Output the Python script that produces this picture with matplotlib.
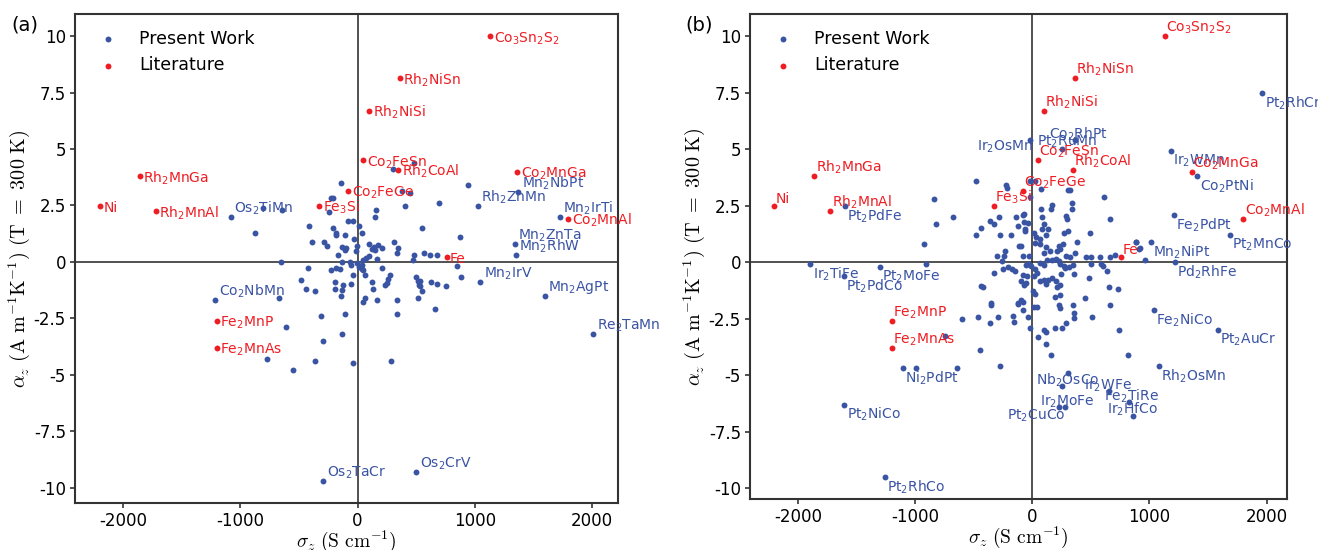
import re

import matplotlib
matplotlib.use("Agg")
import matplotlib.pyplot as plt
from matplotlib.ticker import FuncFormatter

plt.rcParams["axes.unicode_minus"] = False

BLUE = "#3a54a4"
RED = "#ee1d23"

# Literature values (same in both panels)
lit_names = ["Co3Sn2S2", "Rh2NiSn", "Rh2NiSi", "Co2FeSn", "Rh2CoAl", "Co2MnGa",
             "Rh2MnGa", "Co2FeGe", "Fe3Si", "Ni", "Rh2MnAl", "Co2MnAl", "Fe",
             "Fe2MnP", "Fe2MnAs"]
lit_sigma = [1133, 362, 101, 49, 346, 1363, -1858, -78, -328, -2200, -1721, 1800, 760,
             -1200, -1200]
lit_alpha = [10.0, 8.14, 6.7, 4.5, 4.09, 4.0, 3.81, 3.15, 2.49, 2.49, 2.26, 1.92, 0.21,
             -2.61, -3.81]

# Panel (a): labelled present-work compounds
a_names = ["Os2TiMn", "Mn2NbPt", "Rh2ZnMn", "Mn2IrTi", "Mn2ZnTa", "Mn2RhW", "Mn2IrV",
           "Mn2AgPt", "Re2TaMn", "Co2NbMn", "Os2TaCr", "Os2CrV"]
a_lab_sigma = [-1081, 1373, 1025, 1724, 1342, 1351, 1046, 1599, 2012, -1212, -292, 503]
a_lab_alpha = [1.99, 3.1, 2.49, 1.99, 0.8, 0.29, -0.9, -1.5, -3.2, -1.71, -9.7, -9.3]

# Panel (a): unlabelled present-work compounds
a_sigma = [306, 482, -141, 941, -229, -212, 377, 448, 159, 147, 409, 693, -804, -648,
           -246, -872, -414, -212, -184, -184, -78, -36, 16, 36, -104, -27, -391, -286,
           -263, -132, -98, -7, -16, 101, 141, 127, 152, 175, 212, 312, 349, 338, 553,
           873, -166, -107, 485, 473, 568, 620, 679, -653, -229, -184, -130, -64, -52,
           -7, 16, 36, 50, 64, 75, 98, 50, 164, 206, -420, -482, -440, -363, -189, -195,
           -127, -130, -58, 121, 135, 278, 261, 232, 249, 497, 534, 523, 534, 554, 512,
           626, 675, 755, 884, 851, -667, -138, 61, 50, 164, 335, 517, 657, -104, 338,
           -312, -614, -135, -297, -770, -359, -41, 289, -548, -38, -148, 34]
a_alpha = [4.1, 4.4, 3.51, 3.41, 2.82, 2.82, 3.14, 3.04, 2.3, 2.0, 2.49, 2.6, 2.4, 2.3,
           2.23, 1.3, 1.59, 1.49, 1.3, 1.19, 1.81, 1.81, 1.59, 1.3, 1.19, 1.0, 0.9, 0.9,
           0.71, 0.68, 0.6, 0.71, 0.5, 0.8, 0.68, 0.56, 0.53, 0.75, 0.6, 0.9, 0.6, 0.38,
           1.5, 1.09, 0.29, 0.53, 0.31, 0.09, 0.4, 0.29, 0.29, 0.0, -0.35, -0.25, 0.0,
           0.0, -0.12, -0.06, -0.24, -0.13, -0.35, -0.58, 0.16, 0.24, 0.09, 0.12, -0.28,
           -0.28, -0.8, -1.19, -1.31, -0.91, -1.21, -1.02, -1.24, -1.0, -0.91, -1.21,
           -0.6, -0.77, -1.02, -0.94, -0.69, -0.84, -1.03, -1.09, -1.31, -0.83, -0.9,
           -1.0, -1.09, -0.69, -0.2, -1.61, -1.5, -1.61, -1.8, -1.71, -1.71, -1.61,
           -2.09, -2.3, -2.3, -2.4, -2.9, -3.2, -3.5, -4.31, -4.41, -4.48, -4.4, -4.79,
           -0.6, -0.31, -0.31]

# Panel (b): labelled present-work compounds
b_names = ["Pt2RhCr", "Co2RhPt", "Pt2RuMn", "Ir2OsMn", "Ir2WMn", "Co2PtNi", "Fe2PdPt",
           "Pt2MnCo", "Mn2NiPt", "Pd2RhFe", "Pt2PdFe", "Ir2TiFe", "Pt2PdCo", "Pt2MoFe",
           "Ni2PdPt", "Pt2NiCo", "Pt2RhCo", "Fe2NiCo", "Pt2AuCr", "Rh2OsMn", "Nb2OsCo",
           "Ir2WFe", "Ir2MoFe", "Pt2CuCo", "Fe2TiRe", "Ir2HfCo"]
b_lab_sigma = [1965, 369, 252, -16, 1183, 1410, 1208, 1684, 1012, 1220, -1599, -1892,
               -1608, -1302, -1100, -1602, -1255, 1041, 1586, 1085, 302, 251, 280, 226,
               652, 828]
b_lab_alpha = [7.49, 5.38, 4.99, 5.38, 4.9, 3.79, 2.09, 1.19, 0.88, 0.0, 2.48, -0.1,
               -0.62, -0.21, -4.7, -6.31, -9.51, -2.11, -3.01, -4.6, -4.9, -5.5, -6.42,
               -6.42, -5.7, -6.19]

# Panel (b): unlabelled present-work compounds
b_sigma = [-476, -220, -215, 78, -16, -840, -675, -823, -440, -479, -920, -363, -329,
           -286, -272, -178, -135, -70, -33, -61, -124, -115, -95, -82, -28, -297, -241,
           -255, 12, 35, 72, 86, 103, 83, 117, 135, 171, 163, 69, 69, 115, 155, 103, 24,
           225, 262, 239, 211, 287, 296, 302, 273, 339, 342, 382, 362, 302, 319, 490,
           609, 660, 885, 916, 961, 462, 504, 575, 660, 703, 289, 320, 351, 354, 501,
           584, 604, 638, 481, 654, 731, 447, 660, 512, 742, 816, -30, -50, -11, 24, 69,
           103, 126, 171, 205, 231, 240, 274, 313, 44, 12, 69, 103, 117, 137, 169, 200,
           211, 234, 248, 279, -75, -95, -73, -50, -42, -172, -147, -209, -252, -329,
           -440, 6, 26, 18, 41, -22, -124, -95, -351, -353, -459, -363, -289, -164,
           -158, -39, -596, 52, 100, 117, 115, 158, 194, 257, 291, 228, 239, 348, 354,
           354, 197, 234, -442, -277, -746, -989, -639, 860, -908, -16, 28, -230, 886,
           915, -79, -66, -63, -120, -79, -79, -419]
b_alpha = [3.58, 3.39, 3.29, 3.22, 2.9, 2.8, 1.99, 1.7, 1.49, 1.18, 0.8, 1.81, 1.68,
           1.99, 1.18, 1.18, 1.99, 2.14, 1.74, 1.45, 1.59, 0.71, 0.71, 0.29, 0.29, 0.29,
           0.29, 0.03, 1.27, 1.12, 2.33, 1.98, 1.67, 1.45, 1.18, 1.45, 2.51, 2.33, 1.03,
           0.78, 0.68, 0.49, 0.38, 0.86, 0.71, 0.78, 0.56, 0.47, 2.06, 1.89, 1.37, 1.27,
           2.6, 2.33, 0.88, 0.41, 3.19, 3.19, 1.3, 2.89, 1.89, 0.9, 0.6, 0.1, 0.21, 0.21,
           0.21, 0.21, 0.31, 0.27, 0.22, -0.15, -0.52, -0.1, -0.1, -0.18, -0.41, -0.71,
           -1.1, -1.21, -1.61, -1.9, -2.42, -3.01, -4.12, -0.1, -0.15, -0.18, -0.32,
           -0.03, -0.15, 0.07, 0.09, 0.13, 0.06, -0.1, -0.18, -0.21, -0.47, -0.62, -0.84,
           -0.8, -0.96, -0.8, -0.72, -0.86, -1.09, -1.03, -0.55, -0.27, -0.58, -0.84,
           -1.0, -0.91, -0.62, -0.29, -0.4, -0.21, -0.32, -0.5, -1.06, -1.28, -1.43,
           -1.99, -1.99, -2.9, -1.83, -1.68, -1.8, -1.92, -2.42, -2.68, -2.42, -2.39,
           -2.65, -2.42, -2.51, -3.3, -3.01, -3.08, -3.61, -4.12, -2.9, -2.9, -2.68,
           -1.92, -2.02, -1.9, -2.24, -2.46, -1.55, -1.47, -3.91, -4.6, -3.29, -4.7,
           -4.7, -6.81, -0.1, 3.58, 3.58, 0.49, 0.88, 0.59, 2.08, 1.77, 1.39, -1.87,
           -1.77, -2.1, -1.1]

# label offsets in panel (b) that were moved away from the default spot (points)
b_offsets = {
    "Co2RhPt": (-19, 11, "left", "top"),
    "Pt2RuMn": (-18, 11, "left", "top"),
    "Ir2OsMn": (2, 1, "right", "top"),
    "Nb2OsCo": (-23, 1, "left", "top"),
    "Ir2WFe": (16, 6, "left", "top"),
    "Fe2TiRe": (-3, 2.5, "left", "top"),
    "Ir2HfCo": (-16, 1, "left", "top"),
    "Ir2MoFe": (-18, 10, "left", "top"),
    "Pt2CuCo": (-37, 0, "left", "top"),
}


def chem(name):
    return re.sub(r"(\d)", r"$_{\1}$", name)


fig = plt.figure(figsize=(13.18, 5.5), dpi=100)
ax_a = fig.add_axes([0.0569, 0.0855, 0.412, 0.889])
ax_b = fig.add_axes([0.569, 0.0927, 0.4074, 0.8818])

panels = [
    (ax_a, a_sigma, a_alpha, a_names, a_lab_sigma, a_lab_alpha, "(a)", 0.009),
    (ax_b, b_sigma, b_alpha, b_names, b_lab_sigma, b_lab_alpha, "(b)", 0.52),
]

for ax, xs, ys, names, lx, ly, tag, tx in panels:
    ax.axhline(0, color="#222222", lw=1.1, zorder=1)
    ax.axvline(0, color="#222222", lw=1.1, zorder=1)
    ax.scatter(list(xs) + list(lx), list(ys) + list(ly), s=18, color=BLUE,
               label="Present Work", zorder=3, linewidths=0)
    ax.scatter(lit_sigma, lit_alpha, s=18, color=RED, label="Literature", zorder=3,
               linewidths=0)

    for n, x, y in zip(names, lx, ly):
        if ax is ax_a:
            ax.annotate(chem(n), (x, y), xytext=(2.5, 0), textcoords="offset points",
                        ha="left", va="bottom", color=BLUE, fontsize=10, zorder=4)
        else:
            dx, dy, ha, va = b_offsets.get(n, (1.5, -1, "left", "top"))
            ax.annotate(chem(n), (x, y), xytext=(dx, dy), textcoords="offset points",
                        ha=ha, va=va, color=BLUE, fontsize=10, zorder=4)
    for n, x, y in zip(lit_names, lit_sigma, lit_alpha):
        if ax is ax_a:
            ax.annotate(chem(n), (x, y), xytext=(2.5, -1.5), textcoords="offset points",
                        ha="left", va="center", color=RED, fontsize=10, zorder=4)
        else:
            ax.annotate(chem(n), (x, y), xytext=(1, 0), textcoords="offset points",
                        ha="left", va="bottom", color=RED, fontsize=10, zorder=4)

    ax.set_xlabel(r"$\sigma_z\ (\mathrm{S\ cm^{-1}})$", fontsize=14,
                  math_fontfamily="cm", labelpad=-1)
    ax.set_ylabel(r"$\alpha_z\ (\mathrm{A\ m^{-1}K^{-1}})\ (\mathrm{T\ =\ 300\ K})$",
                  fontsize=14.5, math_fontfamily="cm", labelpad=1)
    ax.set_yticks([-10, -7.5, -5, -2.5, 0, 2.5, 5, 7.5, 10])
    ax.set_xticks([-2000, -1000, 0, 1000, 2000])
    ax.yaxis.set_major_formatter(FuncFormatter(lambda v, p: "%g" % v))
    ax.tick_params(labelsize=12, width=1.2, length=3.5, color="#333333", pad=3)
    for sp in ax.spines.values():
        sp.set_linewidth(1.5)
        sp.set_color("#333333")
    ax.legend(loc="upper left", frameon=False, fontsize=12.5)
    fig.text(tx, 0.955, tag, fontsize=14, ha="left", va="center")

fig.savefig("out.png", dpi=100)
